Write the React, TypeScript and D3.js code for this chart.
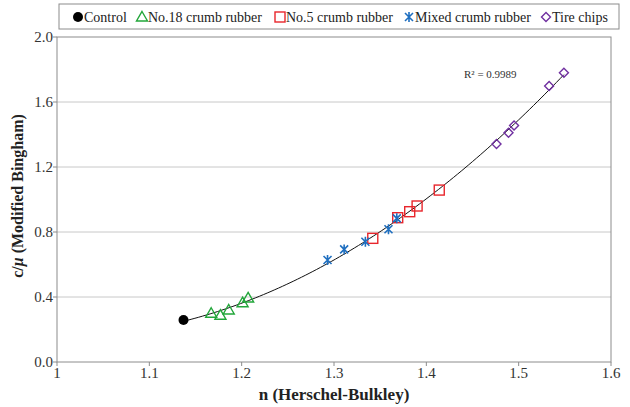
import { useEffect, useRef } from "react"
import * as d3 from "d3"

const controlN = [1.137]
const controlC = [0.258]
const no18N = [1.167, 1.177, 1.186, 1.201, 1.207]
const no18C = [0.3, 0.288, 0.32, 0.365, 0.394]
const no5N = [1.342, 1.369, 1.382, 1.39, 1.414]
const no5C = [0.761, 0.888, 0.925, 0.96, 1.058]
const mixedN = [1.293, 1.311, 1.334, 1.359, 1.368]
const mixedC = [0.628, 0.693, 0.74, 0.817, 0.884]
const tireN = [1.476, 1.489, 1.495, 1.533, 1.549]
const tireC = [1.342, 1.411, 1.456, 1.698, 1.78]

const xTicks = [1, 1.1, 1.2, 1.3, 1.4, 1.5, 1.6]
const yTicks = [0, 0.4, 0.8, 1.2, 1.6, 2.0]
const r2Label = "R² = 0.9989"

const series = [
  { name: "Control", xs: controlN, ys: controlC, shape: "circle", color: "#000000" },
  { name: "No.18 crumb rubber", xs: no18N, ys: no18C, shape: "triangle", color: "#22a63a" },
  { name: "No.5 crumb rubber", xs: no5N, ys: no5C, shape: "square", color: "#e8262c" },
  { name: "Mixed crumb rubber", xs: mixedN, ys: mixedC, shape: "star", color: "#1f6fc0" },
  { name: "Tire chips", xs: tireN, ys: tireC, shape: "diamond", color: "#7030a0" },
]

function drawMarker(g: any, shape: string, color: string, cx: number, cy: number) {
  if (shape === "circle") {
    g.append("circle").attr("cx", cx).attr("cy", cy).attr("r", 5).attr("fill", color)
  } else if (shape === "triangle") {
    g.append("path")
      .attr("d", `M${cx},${cy - 5.5}L${cx + 5.5},${cy + 4}L${cx - 5.5},${cy + 4}Z`)
      .attr("fill", "none").attr("stroke", color).attr("stroke-width", 1.4)
  } else if (shape === "square") {
    g.append("rect").attr("x", cx - 5).attr("y", cy - 5).attr("width", 10).attr("height", 10)
      .attr("fill", "none").attr("stroke", color).attr("stroke-width", 1.4)
  } else if (shape === "star") {
    g.append("path")
      .attr("d", `M${cx - 4},${cy - 4}L${cx + 4},${cy + 4}M${cx + 4},${cy - 4}L${cx - 4},${cy + 4}M${cx},${cy - 5}L${cx},${cy + 5}`)
      .attr("stroke", color).attr("stroke-width", 1.6)
  } else {
    g.append("path")
      .attr("d", `M${cx},${cy - 4.5}L${cx + 4.5},${cy}L${cx},${cy + 4.5}L${cx - 4.5},${cy}Z`)
      .attr("fill", "none").attr("stroke", color).attr("stroke-width", 1.4)
  }
}

export default function App() {
  const ref = useRef<SVGSVGElement>(null)

  useEffect(() => {
    if (!ref.current) return
    const svg = d3.select(ref.current)
    svg.selectAll("*").remove()

    const left = 57, right = 611, top = 37, bottom = 362
    const x = d3.scaleLinear().domain([1, 1.6]).range([left, right])
    const y = d3.scaleLinear().domain([0, 2]).range([bottom, top])

    // gridlines
    svg.append("g").selectAll("line").data(yTicks.slice(1, -1)).enter().append("line")
      .attr("x1", left).attr("x2", right)
      .attr("y1", (d) => y(d)).attr("y2", (d) => y(d))
      .attr("stroke", "#c8c8c8").attr("stroke-width", 1)

    // frame
    svg.append("rect").attr("x", left).attr("y", top).attr("width", right - left).attr("height", bottom - top)
      .attr("fill", "none").attr("stroke", "#8c8c8c").attr("stroke-width", 1)

    // y axis
    const yAxis = svg.append("g")
    yTicks.forEach((t) => {
      yAxis.append("line").attr("x1", left - 4).attr("x2", left).attr("y1", y(t)).attr("y2", y(t))
        .attr("stroke", "#8c8c8c")
      yAxis.append("text").attr("x", left - 4).attr("y", y(t) + 5).attr("text-anchor", "end")
        .style("font-size", "15px").attr("fill", "#333")
        .text(t.toFixed(1))
    })

    // x axis
    const xAxis = svg.append("g")
    xTicks.forEach((t) => {
      xAxis.append("line").attr("x1", x(t)).attr("x2", x(t)).attr("y1", bottom).attr("y2", bottom + 4)
        .attr("stroke", "#8c8c8c")
      xAxis.append("text").attr("x", x(t)).attr("y", bottom + 16).attr("text-anchor", "middle")
        .style("font-size", "15px").attr("fill", "#333")
        .text(String(t))
    })

    svg.append("text").attr("x", 334).attr("y", 400).attr("text-anchor", "middle")
      .style("font-size", "17px").style("font-weight", "bold").attr("fill", "#222")
      .text("n (Herschel-Bulkley)")

    const yt = svg.append("text").attr("transform", "translate(23,196) rotate(-90)")
      .attr("text-anchor", "middle").style("font-size", "16px")
      .style("font-weight", "bold").attr("fill", "#222")
    yt.append("tspan").text("c/")
    yt.append("tspan").style("font-style", "italic").text("μ")
    yt.append("tspan").text(" (Modified Bingham)")

    // quadratic trendline fitted to all points
    const allX = series.flatMap((s) => s.xs)
    const allY = series.flatMap((s) => s.ys)
    const n = allX.length
    let s1 = 0, s2 = 0, s3 = 0, s4 = 0, t0 = 0, t1 = 0, t2 = 0
    allX.forEach((xv, i) => {
      const yv = allY[i]
      s1 += xv; s2 += xv * xv; s3 += xv ** 3; s4 += xv ** 4
      t0 += yv; t1 += xv * yv; t2 += xv * xv * yv
    })
    const M = [[n, s1, s2], [s1, s2, s3], [s2, s3, s4]]
    const B = [t0, t1, t2]
    const det = (m: number[][]) =>
      m[0][0] * (m[1][1] * m[2][2] - m[1][2] * m[2][1]) -
      m[0][1] * (m[1][0] * m[2][2] - m[1][2] * m[2][0]) +
      m[0][2] * (m[1][0] * m[2][1] - m[1][1] * m[2][0])
    const D = det(M)
    const coef = [0, 1, 2].map((k) => det(M.map((row, i) => row.map((v, j) => (j === k ? B[i] : v)))) / D)
    const xMin = d3.min(allX) as number
    const xMax = d3.max(allX) as number
    const curve = d3.range(0, 101).map((i) => {
      const xv = xMin + ((xMax - xMin) * i) / 100
      return [xv, coef[0] + coef[1] * xv + coef[2] * xv * xv] as [number, number]
    })
    svg.append("path").datum(curve)
      .attr("d", d3.line<[number, number]>().x((d) => x(d[0])).y((d) => y(d[1])))
      .attr("fill", "none").attr("stroke", "#111").attr("stroke-width", 1)

    svg.append("text").attr("x", 464).attr("y", 78).style("font-size", "11px")
      .attr("fill", "#333").text(r2Label)

    // markers
    const marks = svg.append("g")
    series.forEach((s) => {
      s.xs.forEach((xv, i) => drawMarker(marks, s.shape, s.color, x(xv), y(s.ys[i])))
    })

    // legend
    const lg = svg.append("g")
    lg.append("rect").attr("x", 59).attr("y", 4).attr("width", 560).attr("height", 25)
      .attr("fill", "#fff").attr("stroke", "#8c8c8c")
    const legendX = [78, 142, 280, 409, 546]
    series.forEach((s, i) => {
      drawMarker(lg, s.shape, s.color, legendX[i], 17)
      lg.append("text").attr("x", legendX[i] + 6).attr("y", 21.5)
        .style("font-size", "14px").attr("fill", "#222").text(s.name)
    })
  }, [])

  return (
    <svg
      ref={ref}
      width={630}
      height={407}
      style={{ display: "block", position: "absolute", left: 0, top: 0, fontFamily: "Liberation Serif, serif" }}
    />
  )
}
